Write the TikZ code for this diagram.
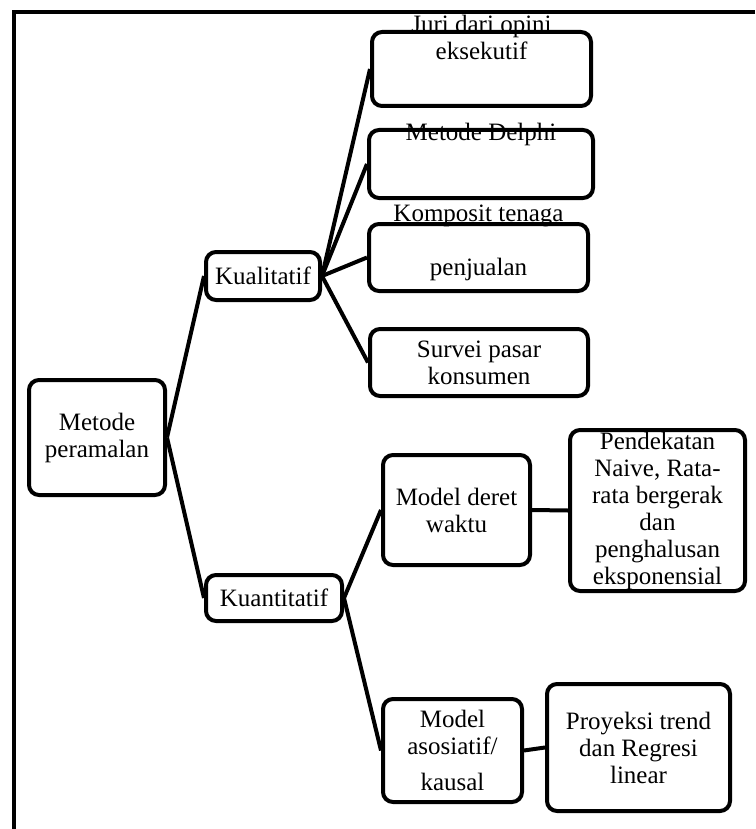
\documentclass[tikz,border=0pt]{standalone}
\usepackage{fontspec}
\setmainfont{Liberation Serif}
\begin{document}
\begin{tikzpicture}[x=1pt,y=-1pt,
  kotak/.style={draw,line width=4pt,rounded corners=10pt,align=center,
    inner sep=0pt,font=\fontsize{25}{27}\selectfont},
  garis/.style={line width=4pt}]
\useasboundingbox (0,0) rectangle (755,829);
\draw[line width=4pt] (755,12) -- (14,12) -- (14,829);
\node[kotak,minimum width=136,minimum height=115] (metode) at (97,437.5)
  {Metode\\peramalan};
\node[kotak,minimum width=114,minimum height=48] (kual) at (263,276) {Kualitatif};
\node[kotak,minimum width=136,minimum height=46] (kuan) at (274,598) {Kuantitatif};
% kotak-kotak kualitatif
\node[kotak,minimum width=219,minimum height=74,text height=0pt,text depth=18pt]
  (juri) at (481.5,69) {Juri dari opini\\eksekutif};
\node[kotak,minimum width=224,minimum height=68,text height=0pt,text depth=46pt]
  (delphi) at (481,164) {Metode Delphi};
\node[kotak,minimum width=219,minimum height=67,text height=35pt,text depth=0pt]
  (komposit) at (478.5,257.5) {Komposit tenaga\\[27pt]penjualan};
\node[kotak,minimum width=218,minimum height=67] (survei) at (479,362.5)
  {Survei pasar\\konsumen};
% kotak-kotak kuantitatif
\node[kotak,minimum width=147,minimum height=110] (deret) at (456.5,510)
  {Model deret\\waktu};
\node[kotak,minimum width=139,minimum height=103] (asosiatif) at (452.5,750.5)
  {Model\\asosiatif/\\[9pt]kausal};
\node[kotak,minimum width=175,minimum height=161] (naive) at (657.5,510.5)
  {Pendekatan\\Naive, Rata-\\rata bergerak\\dan\\penghalusan\\eksponensial};
\node[kotak,minimum width=183,minimum height=127] (proyeksi) at (638.5,747.5)
  {Proyeksi trend\\dan Regresi\\linear};
\draw[garis] (metode.east) -- (kual.west);
\draw[garis] (metode.east) -- (kuan.west);
\foreach \n in {juri,delphi,komposit,survei}
  \draw[garis] (kual.east) -- (\n.west);
\draw[garis] (kuan.east) -- (deret.west);
\draw[garis] (kuan.east) -- (asosiatif.west);
\draw[garis] (deret.east) -- (naive.west);
\draw[garis] (asosiatif.east) -- (proyeksi.west);
\end{tikzpicture}
\end{document}
